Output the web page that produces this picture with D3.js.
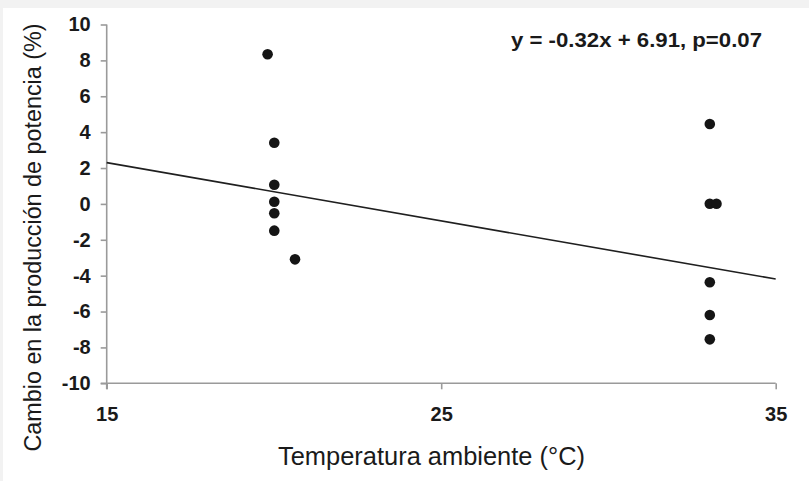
<!DOCTYPE html>
<html>
<head>
<meta charset="utf-8">
<script src="https://cdn.jsdelivr.net/npm/d3@7"></script>
<style>
  html, body { margin: 0; padding: 0; background: #f2f2f2; }
  svg { display: block; }
  text { font-family: "Liberation Sans", Arial, sans-serif; fill: #1a1a1a; }
</style>
</head>
<body>
<svg id="chart" width="809" height="481"></svg>
<script>
// ---- data ----
const tempX = [19.81, 20.01, 20.01, 20.01, 20.01, 20.01, 20.63, 33.03, 33.03, 33.23, 33.03, 33.03, 33.03];
const changeY = [8.34, 3.41, 1.07, 0.12, -0.52, -1.49, -3.09, 4.45, 0.01, 0.01, -4.37, -6.19, -7.55];
const trendX = [15, 35];
const trendY = [2.3, -4.19];
const xTicks = [15, 25, 35];
const yTicks = [-10, -8, -6, -4, -2, 0, 2, 4, 6, 8, 10];
const equationLabel = "y = -0.32x + 6.91, p=0.07";
const xTitle = "Temperatura ambiente (°C)";
const yTitle = "Cambio en la producción de potencia (%)";

const svg = d3.select("#chart");
svg.append("rect").attr("x", 3).attr("y", 8).attr("width", 806).attr("height", 473).attr("fill", "#ffffff");

const x = d3.scaleLinear().domain([15, 35]).range([106.7, 775.7]);
const y = d3.scaleLinear().domain([-10, 10]).range([383.3, 24.5]);

const axisColor = "#9a9a9a";
const fmt = d => String(d);

// Y axis
const gy = svg.append("g").attr("transform", `translate(${x(15)},0)`)
  .call(d3.axisLeft(y).tickValues(yTicks).tickSize(6).tickPadding(10).tickFormat(fmt));
gy.select(".domain").attr("stroke", axisColor).attr("stroke-width", 1.6)
  .attr("d", `M0,${y(10)}V${y(-10) + 6}`);
gy.selectAll(".tick line").attr("stroke", axisColor).attr("stroke-width", 1.6);
gy.selectAll(".tick text").attr("font-size", 20).attr("font-weight", "bold")
  .attr("font-family", '"Liberation Sans", Arial, sans-serif').attr("fill", "#1a1a1a");

// X axis
const gx = svg.append("g").attr("transform", `translate(0,${y(-10)})`)
  .call(d3.axisBottom(x).tickValues(xTicks).tickSize(6).tickPadding(18).tickFormat(fmt));
gx.select(".domain").attr("stroke", axisColor).attr("stroke-width", 1.6)
  .attr("d", `M${x(15) - 6},0H${x(35)}`);
gx.selectAll(".tick line").attr("stroke", axisColor).attr("stroke-width", 1.6);
gx.selectAll(".tick text").attr("font-size", 20).attr("font-weight", "bold")
  .attr("font-family", '"Liberation Sans", Arial, sans-serif').attr("fill", "#1a1a1a");

// Trend line
const line = d3.line().x(d => x(d[0])).y(d => y(d[1]));
svg.append("path").datum(trendX.map((v, i) => [v, trendY[i]]))
  .attr("d", line).attr("fill", "none").attr("stroke", "#1f1f1f").attr("stroke-width", 1.6);

// Points
svg.append("g").selectAll("circle").data(tempX.map((v, i) => [v, changeY[i]]))
  .join("circle")
  .attr("cx", d => x(d[0])).attr("cy", d => y(d[1])).attr("r", 5.3)
  .attr("fill", "#151515");

// Equation
svg.append("text").attr("x", 511).attr("y", 46.5)
  .attr("font-size", 20.5).attr("font-weight", "bold")
  .attr("textLength", 251).attr("lengthAdjust", "spacingAndGlyphs")
  .text(equationLabel);

// Axis titles
svg.append("text").attr("x", 431.5).attr("y", 465).attr("text-anchor", "middle")
  .attr("font-size", 26.5).attr("textLength", 307).attr("lengthAdjust", "spacingAndGlyphs")
  .text(xTitle);

svg.append("text").attr("transform", "translate(41,237.5) rotate(-90)")
  .attr("text-anchor", "middle").attr("font-size", 23)
  .attr("textLength", 428).attr("lengthAdjust", "spacingAndGlyphs")
  .text(yTitle);
</script>
</body>
</html>
